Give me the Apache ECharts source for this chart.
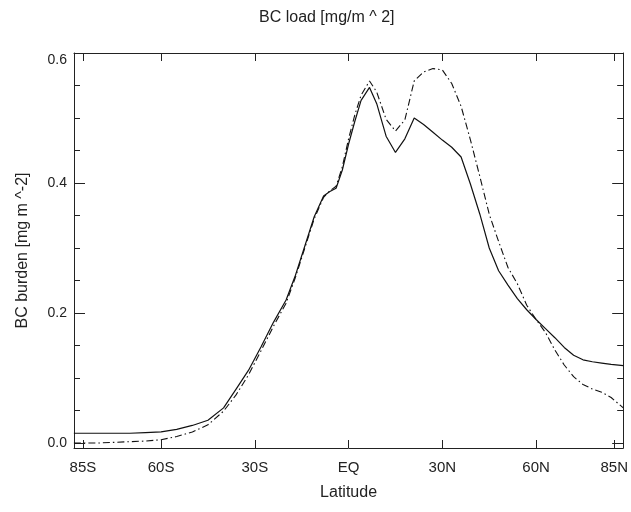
<!DOCTYPE html>
<html>
<head>
<meta charset="utf-8">
<script src="https://cdn.jsdelivr.net/npm/echarts@6/dist/echarts.min.js"></script>
<style>
html,body{margin:0;padding:0;background:#fff;}
#showChart{width:631px;height:512px;}
</style>
</head>
<body>
<div id="showChart"></div>
<script>
// latitudes (deg, S negative)
var lats = [-87.9, -80, -70, -65, -60, -55, -50, -45, -40, -36, -32, -28, -24, -20, -17, -14, -11, -8, -6, -4, -2, 0, 2, 4, 6.7, 9, 12, 15, 18, 21, 24, 27, 30, 33, 36, 39, 42, 45, 48, 51, 54, 57, 60, 63, 66, 69, 72, 75, 78, 81, 84, 87.9];
// solid curve
var solidVals = [0.015, 0.015, 0.015, 0.016, 0.017, 0.021, 0.027, 0.035, 0.054, 0.083, 0.112, 0.148, 0.186, 0.22, 0.258, 0.303, 0.348, 0.38, 0.387, 0.392, 0.42, 0.46, 0.495, 0.527, 0.547, 0.522, 0.472, 0.447, 0.468, 0.5, 0.49, 0.478, 0.466, 0.455, 0.44, 0.398, 0.352, 0.30, 0.265, 0.243, 0.222, 0.205, 0.19, 0.176, 0.162, 0.147, 0.135, 0.128, 0.125, 0.123, 0.121, 0.119];
// dash-dot curve
var dashVals = [0.0, 0.0, 0.002, 0.003, 0.005, 0.01, 0.017, 0.028, 0.049, 0.074, 0.105, 0.142, 0.18, 0.215, 0.255, 0.3, 0.345, 0.378, 0.388, 0.395, 0.425, 0.468, 0.505, 0.535, 0.557, 0.54, 0.498, 0.48, 0.497, 0.557, 0.571, 0.576, 0.574, 0.553, 0.518, 0.466, 0.41, 0.352, 0.31, 0.27, 0.245, 0.212, 0.19, 0.17, 0.143, 0.12, 0.102, 0.09, 0.083, 0.078, 0.07, 0.054];

var xTicks = [-85, -60, -30, 0, 30, 60, 85];
var xTickLabels = ['85S', '60S', '30S', 'EQ', '30N', '60N', '85N'];
var yMajor = [0, 0.2, 0.4, 0.6];
var yMinor = [0.05, 0.1, 0.15, 0.25, 0.3, 0.35, 0.45, 0.5, 0.55];

var myChart = echarts.init(document.getElementById('showChart'));

function pairs(vals) {
    var out = [];
    for (var i = 0; i < lats.length; i++) {
        out.push([lats[i], vals[i]]);
    }
    return out;
}

var txt = '#222';
var font = 'Liberation Sans';
var lineCol = '#222';

function yAx(pos, ticks, len, showLine, showLabel) {
    return {
        type: 'value',
        position: pos,
        min: -0.0077,
        max: 0.6,
        splitLine: {show: false},
        axisLine: {show: showLine, onZero: false, lineStyle: {color: lineCol, width: 1}},
        axisTick: {show: true, inside: true, length: len, customValues: ticks, lineStyle: {color: lineCol}},
        axisLabel: {
            show: showLabel,
            customValues: yMajor,
            margin: 7,
            color: txt,
            fontSize: 14,
            fontFamily: font,
            verticalAlignMaxLabel: 'top',
            formatter: function (v) { return v.toFixed(1); }
        }
    };
}

function xAx(pos, showLabel) {
    return {
        type: 'value',
        position: pos,
        min: -87.86,
        max: 87.86,
        splitLine: {show: false},
        axisLine: {show: true, onZero: false, lineStyle: {color: lineCol, width: 1}},
        axisTick: {show: true, inside: true, length: 8, customValues: xTicks, lineStyle: {color: lineCol}},
        axisLabel: {
            show: showLabel,
            customValues: xTicks,
            margin: 12,
            color: txt,
            fontSize: 15,
            fontFamily: font,
            formatter: function (v) { return xTickLabels[xTicks.indexOf(v)]; }
        }
    };
}

var bottomX = xAx('bottom', true);
bottomX.name = 'Latitude';
bottomX.nameLocation = 'middle';
bottomX.nameGap = 37;
bottomX.nameTextStyle = {color: txt, fontSize: 16, fontFamily: font};

var leftY = yAx('left', yMajor, 11, true, true);
leftY.name = 'BC burden [mg m ^-2]';
leftY.nameLocation = 'middle';
leftY.nameGap = 43;
leftY.nameTextStyle = {color: txt, fontSize: 16, fontFamily: font};

option = {
    backgroundColor: '#fff',
    animation: false,
    title: {
        text: 'BC load [mg/m ^ 2]',
        left: 254,
        top: 5,
        textStyle: {fontWeight: 'normal', fontSize: 16, color: txt, fontFamily: font}
    },
    grid: {left: 74, right: 5, top: 53, bottom: 64, containLabel: false},
    xAxis: [bottomX, xAx('top', false)],
    yAxis: [
        leftY,
        yAx('left', yMinor, 6, false, false),
        yAx('right', yMajor, 11, true, false),
        yAx('right', yMinor, 6, false, false)
    ],
    series: [{
        name: 'solid',
        type: 'line',
        showSymbol: false,
        symbol: 'none',
        xAxisIndex: 0,
        yAxisIndex: 0,
        lineStyle: {color: '#111', width: 1.2},
        data: pairs(solidVals)
    }, {
        name: 'dashdot',
        type: 'line',
        showSymbol: false,
        symbol: 'none',
        xAxisIndex: 0,
        yAxisIndex: 0,
        lineStyle: {color: '#111', width: 1.1, type: [7, 3, 1.5, 3]},
        data: pairs(dashVals)
    }]
};

myChart.setOption(option);
</script>
</body>
</html>
